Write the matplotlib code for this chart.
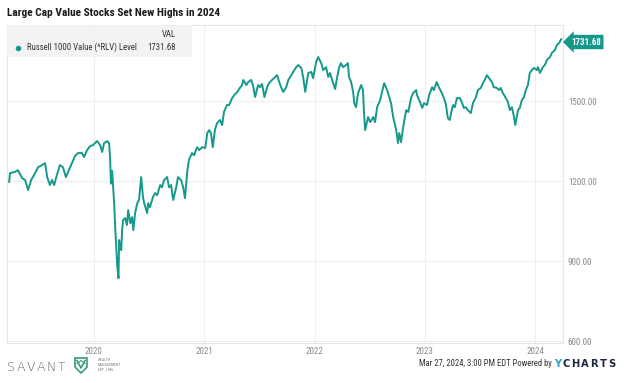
import matplotlib
matplotlib.use("Agg")
import matplotlib.pyplot as plt
import pandas as pd
from matplotlib import font_manager
from matplotlib.patches import Rectangle, Polygon
from matplotlib.lines import Line2D

# Russell 1000 Value level
dates = [
    "2019-03-27", "2019-03-30", "2019-04-15", "2019-04-25", "2019-05-09", "2019-05-19",
    "2019-05-29", "2019-06-08", "2019-06-21", "2019-07-01", "2019-07-14", "2019-07-24",
    "2019-07-31", "2019-08-09", "2019-08-16", "2019-08-23", "2019-09-01", "2019-09-11",
    "2019-09-21", "2019-10-01", "2019-10-11", "2019-10-21", "2019-10-31", "2019-11-10",
    "2019-11-23", "2019-11-30", "2019-12-10", "2019-12-20", "2019-12-30",
    "2020-01-12", "2020-01-22", "2020-01-29", "2020-02-04", "2020-02-14", "2020-02-21",
    "2020-02-24", "2020-02-27", "2020-03-02", "2020-03-05", "2020-03-09", "2020-03-12",
    "2020-03-16", "2020-03-19", "2020-03-23", "2020-03-25", "2020-03-28", "2020-04-01",
    "2020-04-04", "2020-04-07", "2020-04-14", "2020-04-20", "2020-04-24", "2020-05-01",
    "2020-05-07", "2020-05-11", "2020-05-17", "2020-05-24", "2020-05-30", "2020-06-06",
    "2020-06-12", "2020-06-16", "2020-06-26", "2020-06-29", "2020-07-05", "2020-07-15",
    "2020-07-22", "2020-07-29", "2020-08-08", "2020-08-14", "2020-08-21", "2020-08-31",
    "2020-09-06", "2020-09-13", "2020-09-20", "2020-09-30", "2020-10-06", "2020-10-16",
    "2020-10-23", "2020-10-29", "2020-11-06", "2020-11-11", "2020-11-21", "2020-11-28",
    "2020-12-08", "2020-12-15", "2020-12-25",
    "2021-01-04", "2021-01-11", "2021-01-17", "2021-01-23", "2021-01-29", "2021-02-05",
    "2021-02-12", "2021-02-22", "2021-03-01", "2021-03-07", "2021-03-17", "2021-03-24",
    "2021-04-03", "2021-04-10", "2021-04-20", "2021-04-26", "2021-05-06", "2021-05-10",
    "2021-05-20", "2021-05-26", "2021-06-05", "2021-06-11", "2021-06-18", "2021-06-28",
    "2021-07-05", "2021-07-11", "2021-07-19", "2021-07-28", "2021-08-03", "2021-08-13",
    "2021-08-20", "2021-08-30", "2021-09-06", "2021-09-12", "2021-09-19", "2021-09-29",
    "2021-10-06", "2021-10-16", "2021-10-22", "2021-11-01", "2021-11-08", "2021-11-18",
    "2021-11-24", "2021-12-01", "2021-12-11", "2021-12-21", "2021-12-27",
    "2022-01-06", "2022-01-13", "2022-01-23", "2022-01-29", "2022-02-08", "2022-02-15",
    "2022-02-21", "2022-02-28", "2022-03-10", "2022-03-16", "2022-03-23", "2022-03-29",
    "2022-04-05", "2022-04-15", "2022-04-21", "2022-04-25", "2022-05-02", "2022-05-09",
    "2022-05-12", "2022-05-18", "2022-05-25", "2022-06-04", "2022-06-10", "2022-06-13",
    "2022-06-17", "2022-06-27", "2022-07-04", "2022-07-14", "2022-07-20", "2022-07-27",
    "2022-08-06", "2022-08-16", "2022-08-19", "2022-08-29", "2022-09-05", "2022-09-11",
    "2022-09-18", "2022-09-28", "2022-10-04", "2022-10-08", "2022-10-14", "2022-10-21",
    "2022-10-31", "2022-11-07", "2022-11-16", "2022-11-23", "2022-12-03", "2022-12-06",
    "2022-12-16", "2022-12-23", "2022-12-29",
    "2023-01-08", "2023-01-15", "2023-01-25", "2023-01-31", "2023-02-09", "2023-02-16",
    "2023-02-26", "2023-03-05", "2023-03-11", "2023-03-18", "2023-03-24", "2023-03-31",
    "2023-04-04", "2023-04-10", "2023-04-17", "2023-04-27", "2023-05-03", "2023-05-10",
    "2023-05-16", "2023-05-23", "2023-06-02", "2023-06-09", "2023-06-19", "2023-06-25",
    "2023-07-05", "2023-07-12", "2023-07-18", "2023-07-25", "2023-08-01", "2023-08-11",
    "2023-08-17", "2023-08-27", "2023-09-03", "2023-09-09", "2023-09-16", "2023-09-26",
    "2023-10-03", "2023-10-09", "2023-10-16", "2023-10-23", "2023-10-27", "2023-11-05",
    "2023-11-11", "2023-11-18", "2023-11-25", "2023-12-01", "2023-12-08", "2023-12-14",
    "2023-12-21", "2023-12-28",
    "2024-01-07", "2024-01-10", "2024-01-17", "2024-01-26", "2024-02-02", "2024-02-09",
    "2024-02-19", "2024-02-25", "2024-03-06", "2024-03-13", "2024-03-20", "2024-03-27",
]
levels = [
    1197, 1230, 1234, 1241, 1211, 1204,
    1166, 1204, 1230, 1252, 1260, 1267,
    1215, 1185, 1204, 1185, 1222, 1260,
    1252, 1215, 1241, 1267, 1294, 1305,
    1305, 1290, 1316, 1331, 1335,
    1350, 1335, 1309, 1342, 1350, 1342,
    1290, 1190, 1238, 1185, 1110, 1027,
    940, 880, 836, 979, 952, 941,
    1016, 1054, 1061, 1035, 1091, 1042,
    1065, 1016, 1080, 1117, 1129, 1215,
    1140, 1117, 1080, 1117, 1102, 1140,
    1155, 1147, 1185, 1177, 1204, 1215,
    1177, 1185, 1129, 1177, 1215, 1204,
    1177, 1136, 1241, 1279, 1305, 1297,
    1327, 1316, 1327,
    1324, 1380, 1391, 1380, 1327, 1391,
    1417, 1429, 1410, 1459, 1485, 1485,
    1511, 1522, 1534, 1545, 1560, 1579,
    1560, 1571, 1579, 1560, 1515, 1560,
    1552, 1564, 1515, 1552, 1567, 1579,
    1586, 1597, 1571, 1552, 1534, 1552,
    1579, 1597, 1609, 1627, 1635, 1624,
    1590, 1534, 1605, 1609, 1586,
    1646, 1665, 1642, 1616, 1627, 1590,
    1605, 1579, 1545, 1586, 1625, 1642,
    1627, 1635, 1642, 1590, 1571, 1530,
    1492, 1477, 1530, 1560, 1541, 1466,
    1391, 1440, 1421, 1440, 1421, 1477,
    1504, 1552, 1567, 1541, 1515, 1492,
    1440, 1391, 1342, 1380, 1346, 1402,
    1466, 1459, 1511, 1530, 1541, 1522,
    1496, 1474, 1492,
    1485, 1522, 1552, 1541, 1571, 1552,
    1530, 1511, 1490, 1436, 1429, 1466,
    1485, 1477, 1511, 1511, 1496, 1474,
    1477, 1466, 1455, 1492, 1515, 1541,
    1549, 1567, 1579, 1597, 1586, 1571,
    1552, 1549, 1541, 1549, 1530, 1511,
    1496, 1466, 1477, 1440, 1410, 1466,
    1474, 1504, 1515, 1541, 1560, 1605,
    1616, 1624,
    1616, 1627, 1605, 1627, 1635, 1654,
    1665, 1680, 1691, 1710, 1717, 1731.68,
]

year_ticks = ["2020-01-01", "2021-01-01", "2022-01-01", "2023-01-01", "2024-01-01"]
year_labels = ["2020", "2021", "2022", "2023", "2024"]
level_ticks = [600, 900, 1200, 1500]

series_name = "Russell 1000 Value (^RLV) Level"
title = "Large Cap Value Stocks Set New Highs in 2024"
stamp = "Mar 27, 2024, 3:00 PM EDT Powered by"

TEAL = "#15998b"

# YCharts uses a condensed Roboto; take the narrowest family we have
names = {f.name for f in font_manager.fontManager.ttflist}
narrow = next((n for n in ["Roboto Condensed", "Liberation Sans Narrow", "Roboto"] if n in names),
              "DejaVu Sans")
plt.rcParams["font.family"] = [narrow, "DejaVu Sans"]

W, H = 624, 383
fig = plt.figure(figsize=(W / 100, H / 100), dpi=100)


def fx(px):
    return px / W


def fy(py):
    return 1 - py / H


ax = fig.add_axes([fx(7), fy(343), fx(563) - fx(7), fy(25) - fy(343)])
x = pd.to_datetime(dates)
ax.plot(x, levels, color=TEAL, lw=1.4, solid_joinstyle="round")

ax.set_xlim(pd.Timestamp("2019-03-20"), pd.Timestamp("2024-04-02"))
ax.set_ylim(593, 1785)
ax.set_xticks(pd.to_datetime(year_ticks))
ax.set_xticklabels(year_labels)
ax.set_yticks(level_ticks)
ax.set_yticklabels([f"{v:.2f}" for v in level_ticks])
ax.yaxis.tick_right()
ax.tick_params(length=0, labelsize=6.5, labelcolor="#8a8a8a")
ax.tick_params(axis="y", pad=3.5)
ax.tick_params(axis="x", pad=3)
ax.grid(color="#efefef", lw=0.8)
for s in ax.spines.values():
    s.set_color("#e6e6e6")
    s.set_linewidth(0.8)

# last value flag
ax.annotate(f"{levels[-1]:.2f}", xy=(x[-1], levels[-1]), xytext=(7, -2),
            textcoords="offset points", ha="left", va="center", color="white",
            fontsize=6.5, fontweight="bold", annotation_clip=False,
            bbox=dict(boxstyle="larrow,pad=0.3", fc=TEAL, ec="none"))

# title
fig.text(fx(7), fy(12.5), title, fontsize=8.2, fontweight="bold", color="#1a1a1a", va="center")

# legend panel
fig.patches.append(Rectangle((fx(7), fy(57)), fx(192) - fx(7), fy(25) - fy(57),
                             transform=fig.transFigure, fc="#f2f2f2", ec="none", alpha=0.85))
fig.text(fx(176), fy(34.5), "VAL", fontsize=6.3, color="#333333", ha="right", va="center")
fig.lines.append(Line2D([fx(18)], [fy(47.5)], marker="o", ms=3, color=TEAL,
                        transform=fig.transFigure))
fig.text(fx(27), fy(47.5), series_name, fontsize=6.3, color="#333333", va="center")
fig.text(fx(176), fy(47.5), f"{levels[-1]:.2f}", fontsize=6.3, color="#333333",
         ha="right", va="center")

# footer: Savant logo
for i, ch in enumerate("SAVANT"):
    fig.text(fx(10.5 + i * 10.2), fy(367), ch, fontsize=9, color="#606060",
             ha="center", va="center", family="DejaVu Sans", fontweight="light")
shield = [(75, 358), (87, 358), (87, 367), (81, 373), (75, 367)]
fig.patches.append(Polygon([(fx(a), fy(b)) for a, b in shield], closed=True,
                           transform=fig.transFigure, fc="white", ec="#3a9a7c", lw=1.2))
fig.lines.append(Line2D([fx(77), fx(81), fx(85)], [fy(360.5), fy(368), fy(360.5)],
                        color="#3a9a7c", lw=1.2, transform=fig.transFigure))
fig.lines.append(Line2D([fx(77), fx(81), fx(85)], [fy(363.5), fy(360.5), fy(363.5)],
                        color="#3a9a7c", lw=0.8, transform=fig.transFigure))
for txt, yy in [("WEALTH", 360), ("MANAGEMENT", 365), ("EST. 1986", 370)]:
    fig.text(fx(97.5), fy(yy), txt, fontsize=2.8, color="#7a7a7a", va="center")

# footer: timestamp and YCharts mark
fig.text(fx(551.5), fy(364), stamp, fontsize=6.2, color="#333333", ha="right", va="center")
for i, ch in enumerate("YCHARTS"):
    fig.text(fx(557.5 + i * 9.1), fy(364), ch, fontsize=7.2, fontweight="bold",
             color="#2a9fd0" if ch == "Y" else "#1d2742", ha="center", va="center",
             family="DejaVu Sans")

fig.savefig("out.png", dpi=100)
